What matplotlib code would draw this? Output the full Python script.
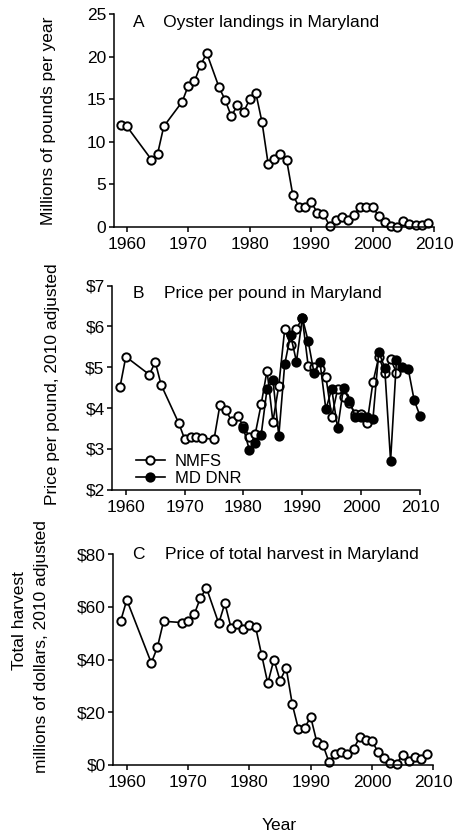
import numpy as np
import matplotlib
matplotlib.use('Agg')
import matplotlib.pyplot as plt
from matplotlib.ticker import FuncFormatter

plt.rcParams['font.family'] = ['Liberation Sans', 'DejaVu Sans']
plt.rcParams['font.size'] = 12.5

# panel A / C years (NMFS)
years = [1959, 1960, 1964, 1965, 1966, 1969, 1970, 1971, 1972, 1973, 1975,
         1976, 1977, 1978, 1979, 1980, 1981, 1982, 1983, 1984, 1985, 1986,
         1987, 1988, 1989, 1990, 1991, 1992, 1993, 1994, 1995, 1996, 1997,
         1998, 1999, 2000, 2001, 2002, 2003, 2004, 2005, 2006, 2007, 2008, 2009]

landings = [12.0, 11.8, 7.9, 8.6, 11.8, 14.7, 16.6, 17.1, 19.0, 20.4, 16.4,
            14.9, 13.0, 14.3, 13.5, 15.0, 15.7, 12.3, 7.4, 8.0, 8.6, 7.9,
            3.8, 2.4, 2.3, 2.9, 1.7, 1.5, 0.15, 0.85, 1.2, 0.8, 1.45,
            2.4, 2.4, 2.35, 1.3, 0.55, 0.1, 0.05, 0.75, 0.3, 0.25, 0.2, 0.5]

harvest = [54.6, 62.6, 38.7, 44.7, 54.5, 54.0, 54.6, 57.1, 63.3, 67.1, 53.7,
           61.3, 52.1, 53.5, 51.6, 53.0, 52.4, 41.7, 31.0, 40.0, 32.0, 36.8,
           23.0, 13.6, 14.0, 18.2, 8.7, 7.6, 1.0, 4.2, 4.9, 4.2, 6.2,
           10.5, 9.5, 9.1, 4.9, 2.7, 0.9, 0.4, 3.9, 1.6, 3.2, 2.3, 4.0]

# panel B price per pound
nmfs_years = years[:-3]
nmfs_price = [4.51, 5.26, 4.82, 5.13, 4.57, 3.63, 3.24, 3.30, 3.30, 3.26, 3.24,
              4.08, 3.95, 3.68, 3.81, 3.55, 3.30, 3.37, 4.09, 4.92, 3.67, 4.55,
              5.93, 5.55, 5.95, 6.20, 5.03, 5.00, 4.95, 4.77, 3.79, 4.47, 4.28,
              4.12, 3.86, 3.86, 3.63, 4.63, 5.26, 4.87, 5.20, 4.87]

dnr_years = list(range(1980, 2011))
dnr_price = [3.50, 2.97, 3.14, 3.34, 4.47, 4.69, 3.32, 5.07, 5.79, 5.14, 6.21,
             5.64, 4.85, 5.13, 3.97, 4.47, 3.50, 4.50, 4.18, 3.79, 3.79, 3.79,
             3.73, 5.38, 4.99, 2.71, 5.18, 5.00, 4.96, 4.20, 3.81]

W, H = 455, 835
fig = plt.figure(figsize=(W / 100, H / 100), dpi=100)


def box(left, right, top, bottom):
    return [left / W, 1 - bottom / H, (right - left) / W, (bottom - top) / H]


def style(ax):
    for s in ['top', 'right']:
        ax.spines[s].set_visible(False)
    for s in ['left', 'bottom']:
        ax.spines[s].set_linewidth(1.1)
    ax.tick_params(direction='out', length=3.5, width=1.1, labelsize=12.5)
    ax.tick_params(axis='x', pad=4)
    ax.tick_params(axis='y', pad=2)
    ax.set_xticks([1960, 1970, 1980, 1990, 2000, 2010])


kw = dict(color='black', lw=1.2, marker='o', ms=6.0, mew=1.4, clip_on=False)

axA = fig.add_axes(box(114, 434, 14, 227))
axA.plot(years, landings, mfc='white', mec='black', **kw)
axA.set_xlim(1957.9, 2010)
axA.set_ylim(0, 25)
axA.set_yticks([0, 5, 10, 15, 20, 25])
style(axA)

axB = fig.add_axes(box(112.3, 420, 285.7, 489.7))
l1, = axB.plot(nmfs_years, nmfs_price, mfc='white', mec='black', label='NMFS', **kw)
l2, = axB.plot(dnr_years, dnr_price, mfc='black', mec='black', label='MD DNR', **kw)
axB.set_xlim(1957.7, 2010)
axB.set_ylim(2, 7)
axB.set_yticks([2, 3, 4, 5, 6, 7])
axB.yaxis.set_major_formatter(FuncFormatter(lambda v, p: '$%d' % v))
style(axB)
axB.legend(handles=[l1, l2], loc='lower left', bbox_to_anchor=(0.078, 0.02),
           frameon=False, fontsize=12, handlelength=1.7, handletextpad=0.6,
           labelspacing=0.1, borderpad=0, borderaxespad=0)

axC = fig.add_axes(box(113.3, 433.3, 554, 765))
axC.plot(years, harvest, mfc='white', mec='black', **kw)
axC.set_xlim(1957.8, 2010)
axC.set_ylim(0, 80)
axC.set_yticks([0, 20, 40, 60, 80])
axC.yaxis.set_major_formatter(FuncFormatter(lambda v, p: '$%d' % v))
style(axC)


def ftext(x, y, s, **k):
    fig.text(x / W, 1 - y / H, s, **k)


ftext(132.7, 26.7, 'A    Oyster landings in Maryland', va='baseline', ha='left')
ftext(132.7, 297.7, 'B    Price per pound in Maryland', va='baseline', ha='left')
ftext(132.7, 559.3, 'C    Price of total harvest in Maryland', va='baseline', ha='left')

ftext(49, 121, 'Millions of pounds per year', rotation=90, ha='center', va='center',
      rotation_mode='anchor')
ftext(53, 384, 'Price per pound, 2010 adjusted', rotation=90, ha='center', va='center',
      rotation_mode='anchor')
ftext(19.5, 621, 'Total harvest', rotation=90, ha='center', va='center',
      rotation_mode='anchor')
ftext(41.5, 647, 'millions of dollars, 2010 adjusted', rotation=90, ha='center',
      va='center', rotation_mode='anchor')
ftext(279, 830, 'Year', ha='center', va='baseline')

fig.savefig('out.png', dpi=100)
